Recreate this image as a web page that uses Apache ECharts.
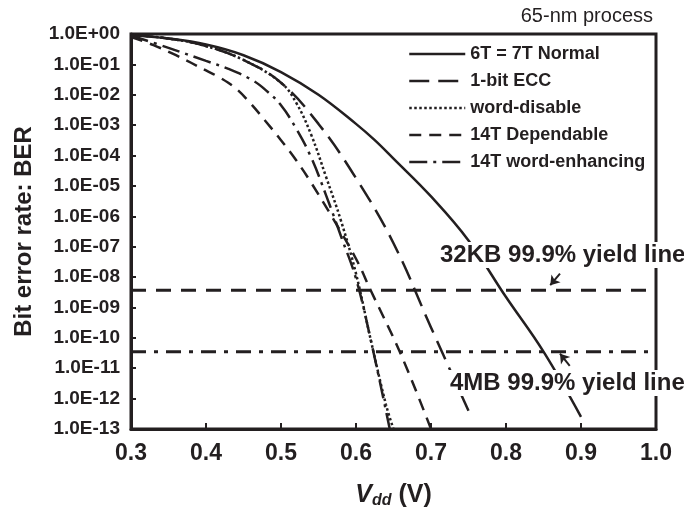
<!DOCTYPE html>
<html>
<head>
<meta charset="utf-8">
<script src="https://cdn.jsdelivr.net/npm/echarts@6/dist/echarts.min.js"></script>
<style>
  html, body { margin: 0; padding: 0; background: #fff; }
  #chart { width: 684px; height: 514px; }
</style>
</head>
<body>
<div id="chart"></div>
<script>
// Vdd (V) and bit error rate
var normalV   = [0.3, 0.35, 0.4, 0.45, 0.5, 0.55, 0.6, 0.625, 0.65, 0.7, 0.75, 0.8, 0.85, 0.9];
var normalBER = [0.93, 0.71, 0.45, 0.2, 5.6e-2, 1e-2, 1.1e-3, 3.2e-4, 7.9e-5, 4.5e-6, 1.6e-7, 2.2e-9, 3.5e-11, 2.5e-13];

var eccV   = [0.3, 0.35, 0.4, 0.45, 0.5, 0.55, 0.6, 0.65, 0.7, 0.75];
var eccBER = [0.93, 0.71, 0.4, 0.14, 2.5e-2, 1.1e-3, 1.8e-5, 1.3e-7, 2.2e-10, 4e-13];

var disableV   = [0.3, 0.35, 0.4, 0.45, 0.5, 0.52, 0.54, 0.56, 0.58, 0.6, 0.62, 0.64, 0.65];
var disableBER = [0.93, 0.71, 0.4, 0.14, 2.5e-2, 5.6e-3, 5e-4, 2e-5, 7.1e-7, 1.3e-8, 7.9e-11, 6.3e-13, 1e-13];

var dependV   = [0.3, 0.33, 0.36, 0.4, 0.42, 0.44, 0.46, 0.48, 0.5, 0.52, 0.54, 0.57, 0.6, 0.62, 0.66, 0.7];
var dependBER = [0.79, 0.43, 0.2, 6.3e-2, 3.5e-2, 1.6e-2, 5e-3, 1.3e-3, 3.2e-4, 7.1e-5, 1.3e-5, 7.9e-7, 4e-8, 3.5e-9, 2.8e-11, 1e-13];

var enhV   = [0.3, 0.35, 0.4, 0.43, 0.46, 0.48, 0.5, 0.52, 0.54, 0.56, 0.58, 0.6, 0.62, 0.645];
var enhBER = [0.89, 0.35, 0.13, 7.1e-2, 3.2e-2, 1.4e-2, 4.5e-3, 7.9e-4, 8.9e-5, 5e-6, 2.2e-7, 8.9e-9, 7.9e-11, 1e-13];

var yieldSpan = [0.3, 0.99];
var yield32KB = 3.7e-9;
var yield4MB = 3.5e-11;

var xTicks = ['0.3', '0.4', '0.5', '0.6', '0.7', '0.8', '0.9', '1.0'];

var INK = '#231f20';
var FONT = '"Liberation Sans", Arial, sans-serif';

function pairs(xs, ys) {
    return xs.map(function (x, i) { return [x, ys[i]]; });
}

function curve(name, xs, ys, dash) {
    return {
        name: name,
        type: 'line',
        data: pairs(xs, ys),
        symbol: 'none',
        smooth: 0.4,
        itemStyle: { color: INK },
        lineStyle: { color: INK, width: 2.5, type: dash },
        z: 3
    };
}

function expLabel(v) {
    var e = Math.round(Math.log10(v));
    var a = Math.abs(e);
    return '1.0E' + (e < 0 ? '-' : '+') + (a < 10 ? '0' + a : '' + a);
}

var chart = echarts.init(document.getElementById('chart'));

var option = {
    animation: false,
    backgroundColor: '#fff',
    textStyle: { fontFamily: FONT, color: INK },
    grid: {
        left: 131, right: 28, top: 34, bottom: 82,
        show: true, borderColor: INK, borderWidth: 3
    },
    legend: {
        data: ['6T = 7T Normal', '1-bit ECC', 'word-disable', '14T Dependable', '14T word-enhancing'],
        orient: 'vertical',
        left: 403, top: 40,
        itemWidth: 56, itemHeight: 14, itemGap: 9,
        textStyle: { fontFamily: FONT, fontWeight: 'bold', fontSize: 18, color: INK },
        itemStyle: { opacity: 0 },
        lineStyle: { width: 2.5 }
    },
    xAxis: {
        type: 'value',
        min: 0.3, max: 1.0, interval: 0.1,
        name: '{v|V}{s|dd}{p| (V)}',
        nameLocation: 'middle',
        nameGap: 52,
        nameTextStyle: {
            rich: {
                v: { fontFamily: FONT, fontSize: 25, fontWeight: 'bold', fontStyle: 'italic', color: INK },
                s: { fontFamily: FONT, fontSize: 16, fontWeight: 'bold', fontStyle: 'italic', color: INK, verticalAlign: 'bottom', padding: [12, 0, 0, 0] },
                p: { fontFamily: FONT, fontSize: 25, fontWeight: 'bold', color: INK }
            }
        },
        axisLine: { lineStyle: { color: INK, width: 3 } },
        axisTick: { inside: true, length: 6, lineStyle: { color: INK, width: 2 } },
        axisLabel: {
            margin: 13, fontSize: 23, fontWeight: 'bold', color: INK, fontFamily: FONT,
            formatter: function (v) { return xTicks[Math.round((v - 0.3) * 10)]; }
        },
        splitLine: { show: false }
    },
    yAxis: {
        type: 'log',
        logBase: 10,
        min: 1e-13, max: 1,
        interval: 1,
        name: 'Bit error rate: BER',
        nameLocation: 'middle',
        nameGap: 95,
        nameTextStyle: { fontFamily: FONT, fontSize: 24, fontWeight: 'bold', color: INK },
        axisLine: { lineStyle: { color: INK, width: 3 } },
        axisTick: { inside: true, length: 5, lineStyle: { color: INK, width: 2 } },
        axisLabel: {
            margin: 11, fontSize: 19, fontWeight: 'bold', color: INK, fontFamily: FONT,
            formatter: expLabel
        },
        minorTick: { show: false },
        splitLine: { show: false }
    },
    series: [
        curve('6T = 7T Normal', normalV, normalBER, 'solid'),
        curve('1-bit ECC', eccV, eccBER, [20, 9]),
        curve('word-disable', disableV, disableBER, [2.5, 2.5]),
        curve('14T Dependable', dependV, dependBER, [12, 8]),
        curve('14T word-enhancing', enhV, enhBER, [18, 6, 3, 6]),
        {
            name: '32KB',
            type: 'line',
            symbol: 'none',
            data: pairs(yieldSpan, [yield32KB, yield32KB]),
            lineStyle: { color: INK, width: 3, type: [15, 10] },
            markLine: {
                silent: true,
                symbol: ['none', 'arrow'],
                symbolSize: 9,
                label: { show: false },
                lineStyle: { color: INK, width: 2, type: 'solid' },
                data: [[{ coord: [0.872, 1.3e-8] }, { coord: [0.859, 5.4e-9] }]]
            },
            z: 2
        },
        {
            name: '4MB',
            type: 'line',
            symbol: 'none',
            data: pairs(yieldSpan, [yield4MB, yield4MB]),
            lineStyle: { color: INK, width: 3, type: [15, 8, 4, 8] },
            markLine: {
                silent: true,
                symbol: ['none', 'arrow'],
                symbolSize: 9,
                label: { show: false },
                lineStyle: { color: INK, width: 2, type: 'solid' },
                data: [[{ coord: [0.885, 1.2e-11] }, { coord: [0.872, 3e-11] }]]
            },
            z: 2
        }
    ],
    graphic: [
        {
            type: 'text', right: 31, top: 6, z: 100,
            style: { text: '65-nm process', fontFamily: FONT, fontSize: 20, fill: INK }
        },
        {
            type: 'text', left: 438, top: 242, z: 100,
            style: {
                text: '32KB 99.9% yield line', fontFamily: FONT, fontSize: 24, fontWeight: 'bold',
                fill: INK, backgroundColor: '#fff', padding: [1, 2, 1, 2]
            }
        },
        {
            type: 'text', left: 448, top: 370, z: 100,
            style: {
                text: '4MB 99.9% yield line', fontFamily: FONT, fontSize: 24, fontWeight: 'bold',
                fill: INK, backgroundColor: '#fff', padding: [1, 2, 1, 2]
            }
        }
    ]
};

chart.setOption(option);
</script>
</body>
</html>
